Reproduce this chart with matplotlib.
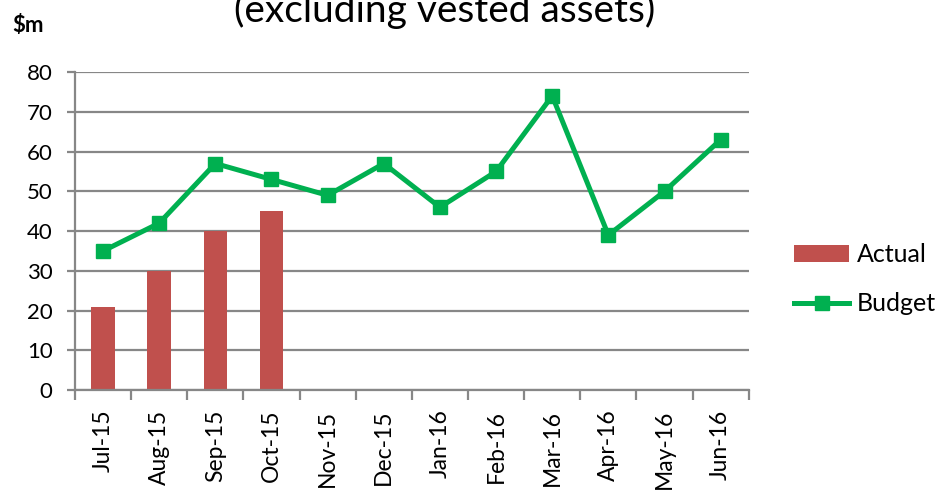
import matplotlib
matplotlib.use('Agg')
import matplotlib.pyplot as plt
from matplotlib.ticker import FixedLocator
import numpy as np

plt.rcParams['font.family'] = ['Lato', 'DejaVu Sans']

months = ['Jul-15', 'Aug-15', 'Sep-15', 'Oct-15', 'Nov-15', 'Dec-15',
          'Jan-16', 'Feb-16', 'Mar-16', 'Apr-16', 'May-16', 'Jun-16']
actual = [21, 30, 40, 45]
budget = [35, 42, 57, 53, 49, 57, 46, 55, 74, 39, 50, 63]

col_bar = '#C0504D'
col_line = '#00B050'
col_grid = '#878787'

fig = plt.figure(figsize=(9.43, 4.97), dpi=100)
fig.patch.set_facecolor('white')
ax = fig.add_axes([0.0795, 0.215, 0.7145, 0.64])

x = np.arange(len(months))
bars = ax.bar(x[:len(actual)], actual, width=0.42, color=col_bar, label='Actual', zorder=2)
line, = ax.plot(x, budget, color=col_line, lw=3.6, marker='s', markersize=9.5,
                label='Budget', zorder=3)

ax.set_xlim(-0.5, len(months) - 0.5)
ax.set_ylim(0, 80)
ax.set_yticks(np.arange(0, 81, 10))
ax.yaxis.grid(True, color=col_grid, lw=1.6, zorder=0)
ax.set_axisbelow(True)

ax.set_xticks(x)
ax.set_xticklabels(months, rotation=90, fontsize=16.5)
ax.xaxis.set_minor_locator(FixedLocator(np.arange(-0.5, len(months), 1)))
ax.tick_params(axis='x', which='major', length=0, pad=14)
ax.tick_params(axis='x', which='minor', length=7, width=1.6, color=col_grid)
ax.tick_params(axis='y', length=6, width=1.6, color=col_grid, pad=10, labelsize=16)

for s in ['top', 'right']:
    ax.spines[s].set_visible(False)
for s in ['left', 'bottom']:
    ax.spines[s].set_color(col_grid)
    ax.spines[s].set_linewidth(1.6)

# title line that is partly cut at the top edge (as in the source image)
fig.text(0.472, 0.955, '(excluding vested assets)', ha='center', va='baseline',
         fontsize=28)
fig.text(0.013, 0.935, '$m', ha='left', va='baseline', fontsize=16,
         fontweight='bold')

fig.legend(handles=[bars, line], labels=['Actual', 'Budget'],
           loc='center left', bbox_to_anchor=(0.842, 0.438), frameon=False,
           fontsize=18, handlelength=2.2, handleheight=0.7, labelspacing=1.05,
           handletextpad=0.3, borderaxespad=0, borderpad=0)

fig.savefig('out.png', dpi=100, facecolor='white')
